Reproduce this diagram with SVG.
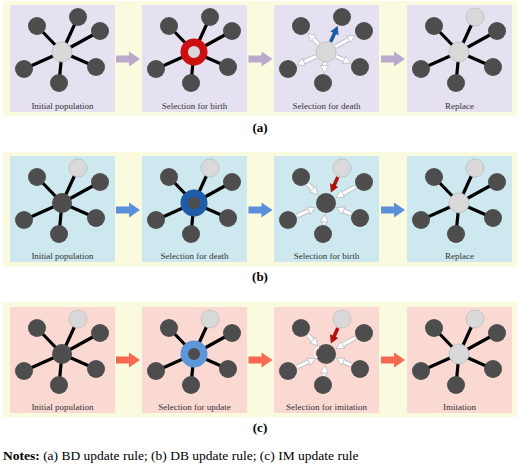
<svg xmlns="http://www.w3.org/2000/svg" xmlns:xlink="http://www.w3.org/1999/xlink" width="520" height="467" viewBox="0 0 520 467">
<style>
.band{fill:#fafadf}
.pa{fill:#e6e1f0}
.pb{fill:#cde8ef}
.pc{fill:#fbd9d3}
.edge{stroke:#000;stroke-width:3.2;stroke-linecap:round}
.dk{fill:#4d4d4d}
.lt{fill:#d9d9d9;stroke:#bdbdbd;stroke-width:0.8}
.lbl{font-family:"Liberation Serif","Times New Roman",serif;font-size:9px;fill:#333;text-anchor:middle}
.cap{font-family:"Liberation Serif","Times New Roman",serif;font-size:13px;font-weight:bold;fill:#000;text-anchor:middle}
.note{font-family:"Liberation Serif","Times New Roman",serif;font-size:13.5px;fill:#000}
.wo{stroke:#b8b4bc;stroke-width:4.8;fill:none}
.wi{stroke:#fff;stroke-width:3.2;fill:none;marker-end:url(#mw)}
.blue{stroke:#1c5aa3;stroke-width:3.6;fill:none;marker-end:url(#mb)}
.red{stroke:#b01010;stroke-width:3.6;fill:none;marker-end:url(#mr)}
.arA{fill:#b9a9cd}
.arB{fill:#5b8fd9}
.arC{fill:#f4694f}
</style>
<defs>
<marker id="mw" markerUnits="userSpaceOnUse" markerWidth="11" markerHeight="11" viewBox="-1 -1 11 11" refX="3.5" refY="4" orient="auto"><path d="M0,0 L7.5,4 L0,8 Z" fill="#fff" stroke="#b8b4bc" stroke-width="0.7"/></marker>
<marker id="mb" markerUnits="userSpaceOnUse" markerWidth="11" markerHeight="11" viewBox="-1 -1 11 11" refX="3.5" refY="4.5" orient="auto"><path d="M0,0 L8,4.5 L0,9 Z" fill="#1c5aa3"/></marker>
<marker id="mr" markerUnits="userSpaceOnUse" markerWidth="11" markerHeight="11" viewBox="-1 -1 11 11" refX="3.5" refY="4.5" orient="auto"><path d="M0,0 L8,4.5 L0,9 Z" fill="#b01010"/></marker>
<g id="edges">
<line class="edge" x1="52" y1="47" x2="27" y2="21"/>
<line class="edge" x1="52" y1="47" x2="68" y2="12"/>
<line class="edge" x1="52" y1="47" x2="90" y2="26"/>
<line class="edge" x1="52" y1="47" x2="86" y2="62"/>
<line class="edge" x1="52" y1="47" x2="49" y2="78"/>
<line class="edge" x1="52" y1="47" x2="14" y2="64"/>
</g>
<g id="n5">
<circle class="dk" cx="27" cy="21" r="9"/>
<circle class="dk" cx="90" cy="26" r="9"/>
<circle class="dk" cx="86" cy="62" r="9"/>
<circle class="dk" cx="49" cy="78" r="9"/>
<circle class="dk" cx="14" cy="64" r="9"/>
</g>
<g id="inw">
<line class="wo" x1="33.9" y1="28.2" x2="41.2" y2="35.8"/>
<line class="wo" x1="81.2" y1="30.8" x2="65.6" y2="39.5"/>
<line class="wo" x1="76.9" y1="58" x2="66.2" y2="53.2"/>
<line class="wo" x1="50" y1="68.5" x2="50.5" y2="62.4"/>
<line class="wo" x1="23.1" y1="59.9" x2="37.9" y2="53.3"/>
<line class="wi" x1="33.9" y1="28.2" x2="41.2" y2="35.8"/>
<line class="wi" x1="81.2" y1="30.8" x2="65.6" y2="39.5"/>
<line class="wi" x1="76.9" y1="58" x2="66.2" y2="53.2"/>
<line class="wi" x1="50" y1="68.5" x2="50.5" y2="62.4"/>
<line class="wi" x1="23.1" y1="59.9" x2="37.9" y2="53.3"/>
<line class="red" x1="63.8" y1="21.1" x2="58.7" y2="32.4"/>
</g>
<path id="bigarrow" d="M0,-3.5 H13 V-7.5 L24,0 L13,7.5 V3.5 H0 Z"/>
</defs>

<rect class="band" x="3" y="1" width="514" height="115"/>
<rect class="band" x="3" y="152" width="514" height="115"/>
<rect class="band" x="3" y="302" width="514" height="115"/>

<g id="a1" transform="translate(10,5)">
<rect class="pa" width="105" height="107"/>
<use xlink:href="#edges"/><use xlink:href="#n5"/>
<circle class="dk" cx="68" cy="12" r="9"/>
<circle class="lt" cx="52" cy="47" r="10"/>
<text class="lbl" x="52.5" y="104">Initial population</text>
</g>
<g id="a2" transform="translate(142,5)">
<rect class="pa" width="105" height="107"/>
<use xlink:href="#edges"/><use xlink:href="#n5"/>
<circle class="dk" cx="68" cy="12" r="9"/>
<circle cx="52" cy="47" r="9.8" fill="#d9d9d9" stroke="#cc1010" stroke-width="7.5"/>
<text class="lbl" x="52.5" y="104">Selection for birth</text>
</g>
<g id="a3" transform="translate(274,5)">
<rect class="pa" width="105" height="107"/>
<use xlink:href="#n5"/>
<circle class="dk" cx="68" cy="12" r="9"/>
<circle class="lt" cx="52" cy="47" r="10"/>
<line class="wo" x1="44.4" y1="39.1" x2="36.7" y2="31.1"/>
<line class="wo" x1="61.6" y1="41.7" x2="77.7" y2="32.7"/>
<line class="wo" x1="62.1" y1="51.4" x2="73.2" y2="56.4"/>
<line class="wo" x1="50.9" y1="57.9" x2="50.4" y2="64"/>
<line class="wo" x1="42" y1="51.5" x2="26.8" y2="58.3"/>
<line class="wi" x1="44.4" y1="39.1" x2="36.7" y2="31.1"/>
<line class="wi" x1="61.6" y1="41.7" x2="77.7" y2="32.7"/>
<line class="wi" x1="62.1" y1="51.4" x2="73.2" y2="56.4"/>
<line class="wi" x1="50.9" y1="57.9" x2="50.4" y2="64"/>
<line class="wi" x1="42" y1="51.5" x2="26.8" y2="58.3"/>
<line class="blue" x1="56.6" y1="37" x2="61.9" y2="25.2"/>
<text class="lbl" x="52.5" y="104">Selection for death</text>
</g>
<g id="a4" transform="translate(407,5)">
<rect class="pa" width="105" height="107"/>
<use xlink:href="#edges"/><use xlink:href="#n5"/>
<circle class="lt" cx="68" cy="12" r="9"/>
<circle class="lt" cx="52" cy="47" r="10"/>
<text class="lbl" x="52.5" y="104">Replace</text>
</g>

<g id="b1" transform="translate(10,156)">
<rect class="pb" width="105" height="106"/>
<use xlink:href="#edges"/><use xlink:href="#n5"/>
<circle class="lt" cx="68" cy="12" r="9"/>
<circle class="dk" cx="52" cy="47" r="10"/>
<text class="lbl" x="52.5" y="103">Initial population</text>
</g>
<g id="b2" transform="translate(142,156)">
<rect class="pb" width="105" height="106"/>
<use xlink:href="#edges"/><use xlink:href="#n5"/>
<circle class="lt" cx="68" cy="12" r="9"/>
<circle cx="52" cy="47" r="9.8" fill="#4d4d4d" stroke="#1f5ba6" stroke-width="7.5"/>
<text class="lbl" x="52.5" y="103">Selection for death</text>
</g>
<g id="b3" transform="translate(274,156)">
<rect class="pb" width="105" height="106"/>
<use xlink:href="#n5"/>
<circle class="lt" cx="68" cy="12" r="9"/>
<circle class="dk" cx="52" cy="47" r="10"/>
<use xlink:href="#inw"/>
<text class="lbl" x="52.5" y="103">Selection for birth</text>
</g>
<g id="b4" transform="translate(407,156)">
<rect class="pb" width="105" height="106"/>
<use xlink:href="#edges"/><use xlink:href="#n5"/>
<circle class="lt" cx="68" cy="12" r="9"/>
<circle class="lt" cx="52" cy="47" r="10"/>
<text class="lbl" x="52.5" y="103">Replace</text>
</g>

<g id="c1" transform="translate(10,307)">
<rect class="pc" width="105" height="106"/>
<use xlink:href="#edges"/><use xlink:href="#n5"/>
<circle class="lt" cx="68" cy="12" r="9"/>
<circle class="dk" cx="52" cy="47" r="10"/>
<text class="lbl" x="52.5" y="103">Initial population</text>
</g>
<g id="c2" transform="translate(142,307)">
<rect class="pc" width="105" height="106"/>
<use xlink:href="#edges"/><use xlink:href="#n5"/>
<circle class="lt" cx="68" cy="12" r="9"/>
<circle cx="52" cy="47" r="9.8" fill="#4d4d4d" stroke="#5b97d9" stroke-width="7.5"/>
<text class="lbl" x="52.5" y="103">Selection for update</text>
</g>
<g id="c3" transform="translate(274,307)">
<rect class="pc" width="105" height="106"/>
<use xlink:href="#n5"/>
<circle class="lt" cx="68" cy="12" r="9"/>
<circle class="dk" cx="52" cy="47" r="10"/>
<path d="M45,40 A6,6 0 0 0 43,51" fill="none" stroke="#e8c4c0" stroke-width="3"/>
<path d="M45,40 A6,6 0 0 0 43,51" fill="none" stroke="#fff" stroke-width="1.6"/>
<use xlink:href="#inw"/>
<text class="lbl" x="52.5" y="103">Selection for imitation</text>
</g>
<g id="c4" transform="translate(407,307)">
<rect class="pc" width="105" height="106"/>
<use xlink:href="#edges"/><use xlink:href="#n5"/>
<circle class="lt" cx="68" cy="12" r="9"/>
<circle class="lt" cx="52" cy="47" r="10"/>
<text class="lbl" x="52.5" y="103">Imitation</text>
</g>

<g id="connectors">
<use xlink:href="#bigarrow" class="arA" transform="translate(116,59)"/>
<use xlink:href="#bigarrow" class="arA" transform="translate(248.5,59)"/>
<use xlink:href="#bigarrow" class="arA" transform="translate(381,59)"/>
<use xlink:href="#bigarrow" class="arB" transform="translate(116,210)"/>
<use xlink:href="#bigarrow" class="arB" transform="translate(248.5,210)"/>
<use xlink:href="#bigarrow" class="arB" transform="translate(381,210)"/>
<use xlink:href="#bigarrow" class="arC" transform="translate(116,360)"/>
<use xlink:href="#bigarrow" class="arC" transform="translate(248.5,360)"/>
<use xlink:href="#bigarrow" class="arC" transform="translate(381,360)"/>
</g>

<text class="cap" x="260" y="132">(a)</text>
<text class="cap" x="260" y="281">(b)</text>
<text class="cap" x="260" y="432">(c)</text>
<text class="note" x="3" y="460"><tspan font-weight="bold">Notes:</tspan> (a) BD update rule; (b) DB update rule; (c) IM update rule</text>
</svg>
